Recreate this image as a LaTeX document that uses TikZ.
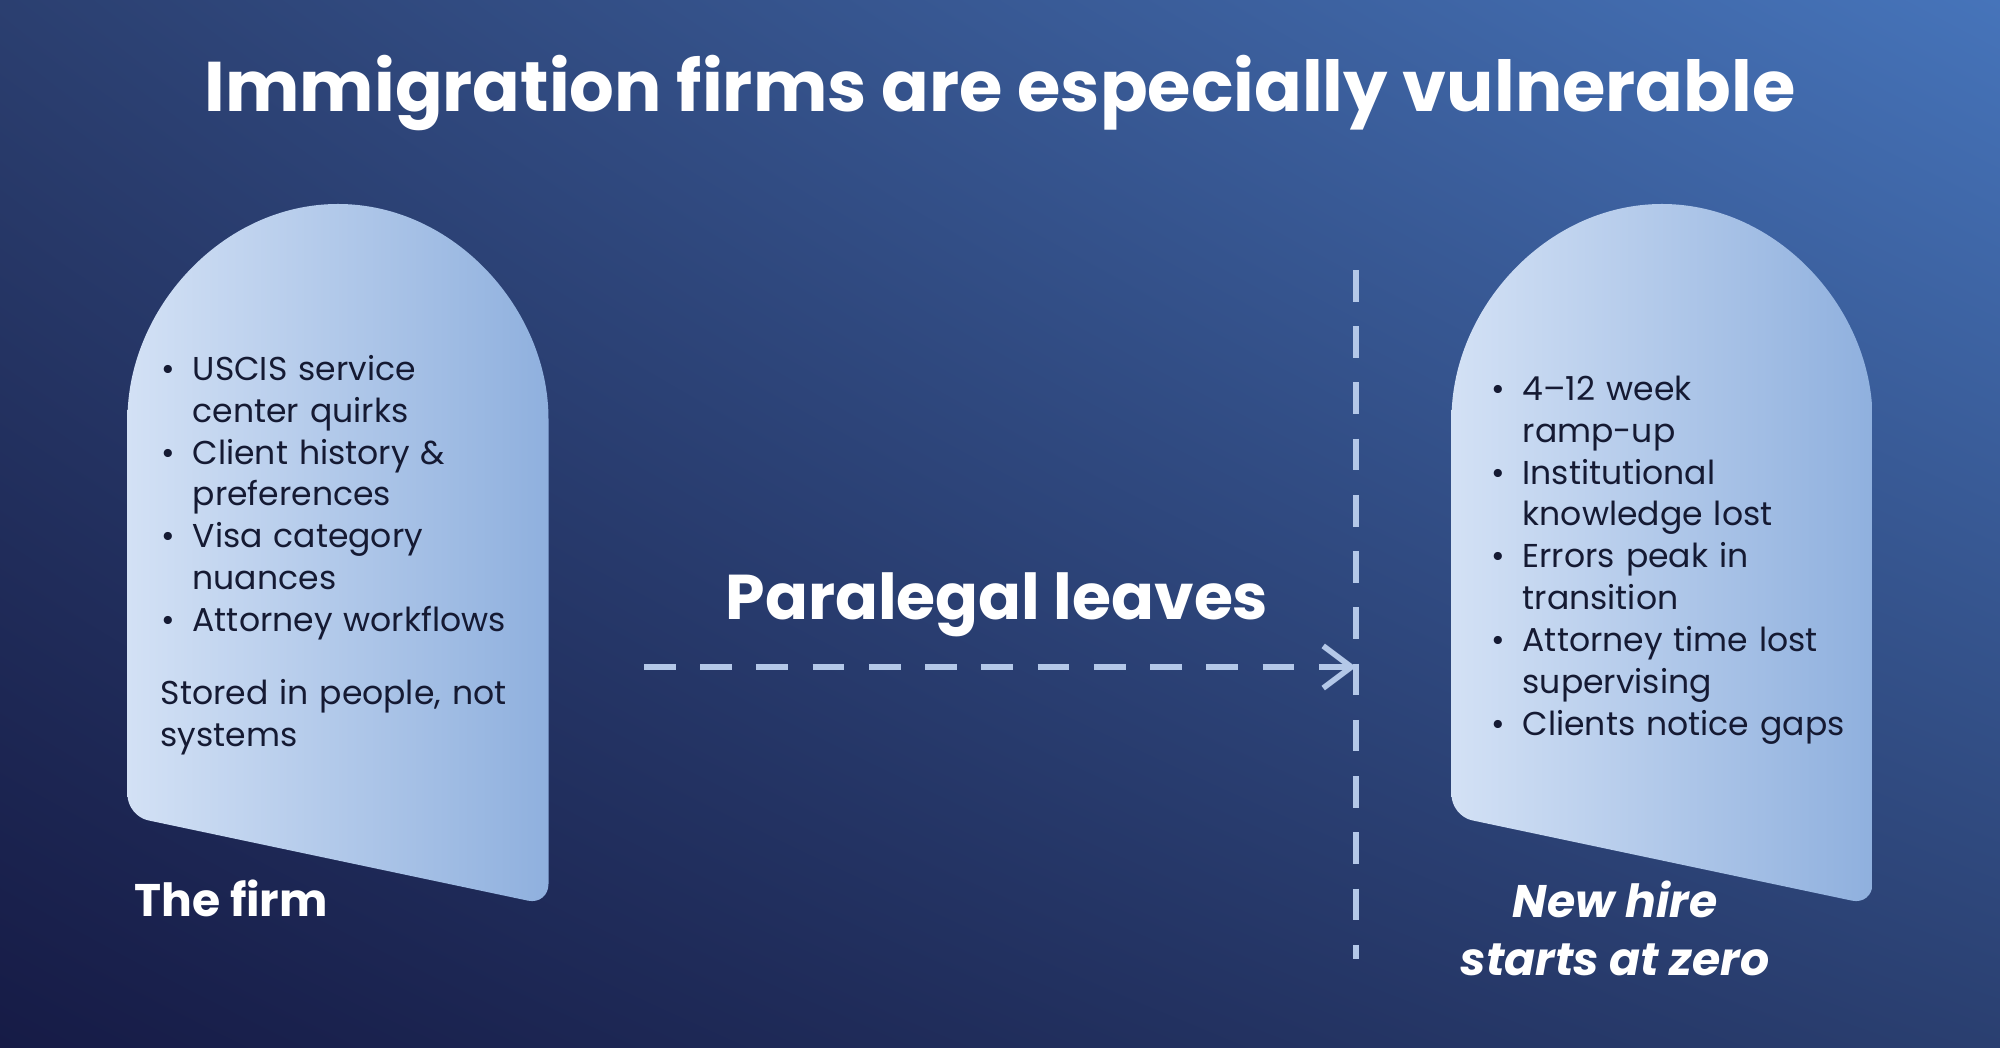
\documentclass[tikz,border=0pt]{standalone}
\usepackage{fontspec}
\setmainfont{Poppins}
\usepackage{enumitem}
\usetikzlibrary{positioning,arrows.meta,shadings}
\definecolor{bgTL}{HTML}{2B3F70}
\definecolor{bgTR}{HTML}{4674BA}
\definecolor{bgBL}{HTML}{161B46}
\definecolor{bgBR}{HTML}{2A3F70}
\definecolor{stoneL}{HTML}{D3E1F5}
\definecolor{stoneR}{HTML}{8FB0DE}
\definecolor{dashcol}{HTML}{B4C8E8}
\definecolor{ink}{HTML}{151A33}
\tikzset{
  stone/.style={left color=stoneL, right color=stoneR, rounded corners=6pt},
  bodytext/.style={text=ink, font=\fontsize{9.4}{11.9}\selectfont, align=left, inner sep=0pt, anchor=north west},
  caption/.style={text=white, font=\fontsize{13}{16.5}\selectfont\bfseries},
  dashline/.style={draw=dashcol, line width=1.6pt, dash pattern=on 9pt off 7pt}
}
\newcommand{\stonepath}[1]{%
  (#1,2.32) -- (#1,6.08) arc[start angle=180, end angle=0, x radius=2.105, y radius=2.36]
  -- (#1+4.21,1.43) -- cycle}
\begin{document}
\begin{tikzpicture}
\useasboundingbox (0,0) rectangle (20,10.48);
\shade[upper left=bgTL, upper right=bgTR, lower left=bgBL, lower right=bgBR] (0,0) rectangle (20,10.48);

\node[text=white, font=\fontsize{20}{24}\selectfont\bfseries] (title) at (10,9.55) {Immigration firms are especially vulnerable};

% the two stones
\shade[stone] \stonepath{1.275};
\shade[stone] \stonepath{14.515};

\node[bodytext, text width=3.7cm] (firmlist) at (1.6,7.1) {%
  \begin{itemize}[leftmargin=0.32cm, itemsep=0pt, topsep=0pt, parsep=0pt, label=\textbullet]
  \item USCIS service center quirks
  \item Client history \& preferences
  \item Visa category nuances
  \item Attorney workflows
  \end{itemize}\par\vspace{9pt}
  Stored in people, not systems};
\node[bodytext, text width=3.7cm] (hirelist) at (14.9,6.9) {%
  \begin{itemize}[leftmargin=0.32cm, itemsep=0pt, topsep=0pt, parsep=0pt, label=\textbullet]
  \item 4--12 week\\ramp-up
  \item Institutional knowledge lost
  \item Errors peak in transition
  \item Attorney time lost supervising
  \item Clients notice gaps
  \end{itemize}};

\node[caption, anchor=west] (firm) at (1.22,1.5) {The firm};
\node[caption, font=\fontsize{13}{16.5}\selectfont\bfseries\itshape, align=center] (newhire) at (16.15,1.2) {New hire\\starts at zero};

\node[text=white, font=\fontsize{18}{22}\selectfont\bfseries] (leaves) at (9.97,4.43) {Paralegal leaves};

\coordinate (top) at (13.56,7.78);
\coordinate (bottom) at (13.56,0.89);
\coordinate (start) at (6.44,3.81);
\coordinate (stop) at (13.56,3.81);
\draw[dashline] (top) -- (bottom);
\draw[dashline, -{Straight Barb[length=8pt, width=12pt, line width=1.6pt]}] (start) -- (stop);
\end{tikzpicture}
\end{document}
